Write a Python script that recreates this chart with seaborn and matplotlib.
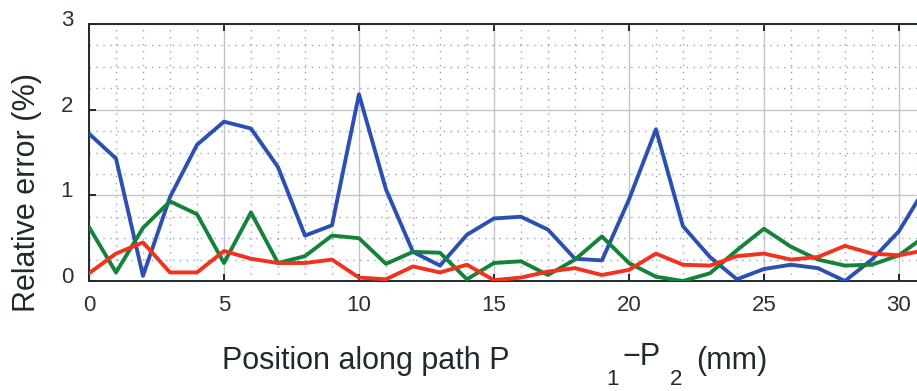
import numpy as np
import pandas as pd
import matplotlib
matplotlib.use("Agg")
import matplotlib.pyplot as plt
import seaborn as sns
from matplotlib.ticker import MultipleLocator
from matplotlib.transforms import ScaledTranslation

positions = list(range(0, 32))
blue_err = [1.72, 1.43, 0.06, 0.98, 1.59, 1.86, 1.78, 1.33, 0.53, 0.65,
            2.18, 1.07, 0.34, 0.18, 0.54, 0.73, 0.75, 0.60, 0.26, 0.24,
            0.95, 1.77, 0.64, 0.28, 0.02, 0.14, 0.19, 0.15, 0.00, 0.25,
            0.58, 1.10]
green_err = [0.63, 0.10, 0.62, 0.93, 0.78, 0.21, 0.80, 0.21, 0.29, 0.53,
             0.50, 0.20, 0.34, 0.33, 0.02, 0.21, 0.23, 0.07, 0.25, 0.52,
             0.21, 0.05, 0.00, 0.09, 0.36, 0.61, 0.40, 0.25, 0.18, 0.19,
             0.30, 0.53]
red_err = [0.09, 0.32, 0.45, 0.10, 0.10, 0.35, 0.26, 0.21, 0.21, 0.25,
           0.04, 0.02, 0.17, 0.10, 0.19, 0.01, 0.04, 0.11, 0.15, 0.07,
           0.13, 0.32, 0.19, 0.18, 0.29, 0.32, 0.25, 0.28, 0.41, 0.32,
           0.30, 0.36]
series_names = ["blue", "green", "red"]
xticks = [0, 5, 10, 15, 20, 25, 30]
yticks = [0, 1, 2, 3]

df = pd.concat([
    pd.DataFrame({"x": positions, "y": vals, "s": name})
    for name, vals in zip(series_names, [blue_err, green_err, red_err])
])

sns.set_theme(style="white")
plt.rcParams["font.family"] = ["Liberation Sans", "DejaVu Sans"]

W, H = 917, 391
fig = plt.figure(figsize=(W / 100, H / 100), dpi=100)
ax = fig.add_axes([89 / W, 1 - 281 / H, 1 - 89 / W, (281 - 24) / H])

palette = {"blue": "#2b4fb3", "green": "#15823a", "red": "#f0321e"}
sns.lineplot(data=df, x="x", y="y", hue="s", palette=palette, ax=ax,
             linewidth=2.8, legend=False, zorder=3)

ax.set_xlim(0, 30.67)
ax.set_ylim(0, 3)
ax.set_xticks(xticks)
ax.set_yticks(yticks)
ax.xaxis.set_minor_locator(MultipleLocator(1))
ax.yaxis.set_minor_locator(MultipleLocator(0.25))
ax.grid(which="major", color="#c4c4c4", linewidth=1.0, linestyle="-", zorder=0)
ax.grid(which="minor", color="#92a4c0", linewidth=1.0, linestyle=(0, (1, 4)), zorder=0)
ax.set_axisbelow(True)

for side in ["left", "top", "bottom"]:
    ax.spines[side].set_color("#1f2a2e")
    ax.spines[side].set_linewidth(1.4)
ax.spines["right"].set_visible(False)

ax.tick_params(axis="both", which="major", direction="in", length=5, width=1.4,
               color="#1f2a2e", labelsize=16, labelcolor="#263238",
               top=True, bottom=True, left=True)
ax.tick_params(axis="x", which="major", pad=10)
ax.tick_params(axis="y", which="major", pad=11.5)
ax.tick_params(which="minor", length=0)

ax.set_xlabel("")
ax.set_ylabel("")

# y tick labels sit slightly above their grid lines in the reference
off = ScaledTranslation(0, 6 / 100, fig.dpi_scale_trans)
for lab in ax.get_yticklabels():
    lab.set_transform(lab.get_transform() + off)

txt = dict(fontsize=22, color="#1f2a2e")
sub = dict(fontsize=16, color="#1f2a2e")
fig.text(27 / W, 1 - 192 / H, "Relative error (%)", rotation=90,
         ha="center", va="center", **txt)
fig.text(222 / W, 1 - 369 / H, "Position along path P", ha="left", va="baseline", **txt)
fig.text(606 / W, 1 - 385 / H, "1", ha="left", va="baseline", **sub)
fig.text(622 / W, 1 - 365 / H, "\u2212P", ha="left", va="baseline", **txt)
fig.text(670 / W, 1 - 385 / H, "2", ha="left", va="baseline", **sub)
fig.text(696 / W, 1 - 369 / H, "(mm)", ha="left", va="baseline", **txt)

fig.savefig("out.png", dpi=100)
